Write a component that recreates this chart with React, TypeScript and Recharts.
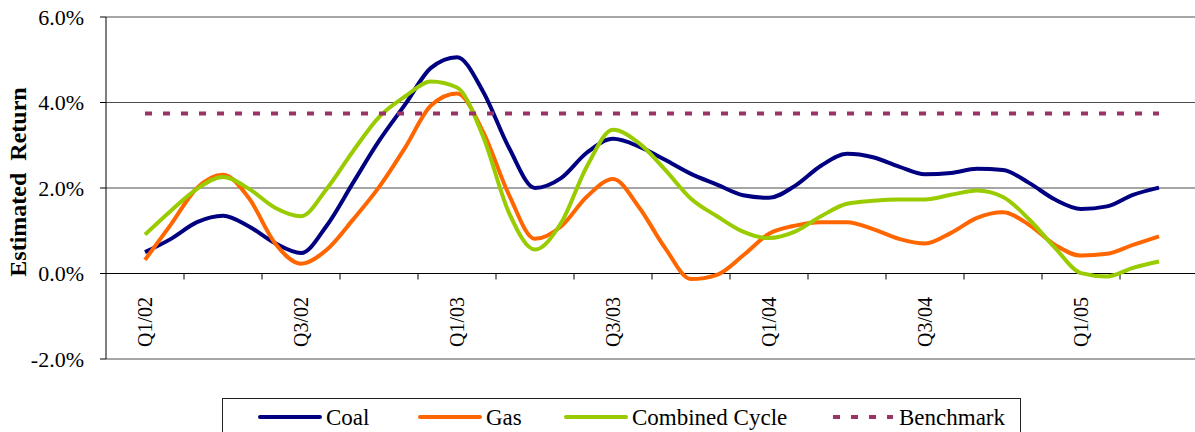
import { LineChart, Line, XAxis, YAxis, CartesianGrid, ReferenceLine } from "recharts";

const FONT = '"Liberation Serif", "DejaVu Serif", Tinos, "Times New Roman", Times, serif';

// monthly categories, Jan 02 .. Jun 05 (values are rolling, plotted Feb 02 .. May 05)
const months = [
  "Jan 02", "Feb 02", "Mar 02", "Apr 02", "May 02", "Jun 02", "Jul 02", "Aug 02", "Sep 02", "Oct 02", "Nov 02", "Dec 02",
  "Jan 03", "Feb 03", "Mar 03", "Apr 03", "May 03", "Jun 03", "Jul 03", "Aug 03", "Sep 03", "Oct 03", "Nov 03", "Dec 03",
  "Jan 04", "Feb 04", "Mar 04", "Apr 04", "May 04", "Jun 04", "Jul 04", "Aug 04", "Sep 04", "Oct 04", "Nov 04", "Dec 04",
  "Jan 05", "Feb 05", "Mar 05", "Apr 05", "May 05", "Jun 05",
];
const firstMonth = "Feb 02";

const tickMonths = ["Feb 02", "Aug 02", "Feb 03", "Aug 03", "Feb 04", "Aug 04", "Feb 05"];
const tickLabels = ["Q1/02", "Q3/02", "Q1/03", "Q3/03", "Q1/04", "Q3/04", "Q1/05"];
const yTicks = [-2, 0, 2, 4, 6];

// estimated return, %
const coal = [
  0.5, 0.81, 1.2, 1.35, 1.1, 0.71, 0.48, 1.13, 2.12, 3.1,
  3.95, 4.81, 5.06, 4.26, 2.94, 2.0, 2.23, 2.83, 3.15, 2.97,
  2.66, 2.33, 2.08, 1.83, 1.77, 2.05, 2.52, 2.8, 2.72, 2.5,
  2.32, 2.35, 2.45, 2.42, 2.12, 1.73, 1.51, 1.57, 1.84, 2.01,
];
const gas = [
  0.32, 1.15, 2.0, 2.31, 1.76, 0.71, 0.23, 0.56, 1.26, 2.02,
  2.94, 3.93, 4.21, 3.32, 1.84, 0.81, 1.1, 1.8, 2.21, 1.55,
  0.6, -0.13, -0.03, 0.42, 0.93, 1.12, 1.2, 1.2, 1.04, 0.81,
  0.7, 0.95, 1.3, 1.43, 1.14, 0.67, 0.42, 0.46, 0.67, 0.87,
];
const combinedCycle = [
  0.91, 1.47, 1.98, 2.26, 1.98, 1.54, 1.34, 1.99, 2.86, 3.66,
  4.14, 4.49, 4.35, 3.21, 1.42, 0.56, 1.18, 2.51, 3.36, 3.05,
  2.43, 1.75, 1.34, 0.98, 0.83, 0.98, 1.34, 1.63, 1.7, 1.73,
  1.73, 1.84, 1.94, 1.79, 1.27, 0.6, 0.01, -0.07, 0.13, 0.28,
];
const benchmark = 3.74;

const start = months.indexOf(firstMonth);
const data = months.map((month, i) => {
  const k = i - start;
  const has = k >= 0 && k < coal.length;
  return {
    i,
    month,
    coal: has ? coal[k] : null,
    gas: has ? gas[k] : null,
    combined: has ? combinedCycle[k] : null,
    benchmark: has ? benchmark : null,
  };
});

const series = [
  { key: "coal", name: "Coal", color: "#000080", dash: undefined as string | undefined },
  { key: "gas", name: "Gas", color: "#FF6600", dash: undefined },
  { key: "combined", name: "Combined Cycle", color: "#99CC00", dash: undefined },
  { key: "benchmark", name: "Benchmark", color: "#993366", dash: "7 11" },
];
const legendLeft = [35, 195, 341, 608];

// tick marks between quarters (every 3 months)
const quarterBounds: number[] = [];
for (let q = 3; q < months.length; q += 3) quarterBounds.push(q - 0.5);

function QuarterTick(props: any) {
  const { x, y, payload } = props;
  const label = tickLabels[tickMonths.indexOf(months[payload.value])];
  const tx = x + 7;
  const ty = y - 70;
  return (
    <text x={tx} y={ty} transform={`rotate(-90 ${tx} ${ty})`} textAnchor="end" fontSize={20} fontFamily={FONT} fill="#000">
      {label}
    </text>
  );
}

function AxisTitle(props: any) {
  const vb = props.viewBox;
  const x = vb.x + 26;
  const y = vb.y + vb.height / 2 - 6;
  return (
    <text x={x} y={y} transform={`rotate(-90 ${x} ${y})`} textAnchor="middle" fontSize={24} fontWeight="bold"
      fontFamily={FONT} fill="#000" style={{ whiteSpace: "pre" }}>
      Estimated  Return
    </text>
  );
}

export default function App() {
  return (
    <div style={{ position: "absolute", left: 0, top: 0, width: 1195, height: 432, overflow: "hidden", background: "#fff", fontFamily: FONT }}>
      <LineChart width={1195} height={432} data={data} margin={{ top: 17, right: -3, bottom: 0, left: 0 }}>
        <CartesianGrid vertical={false} stroke="#000" strokeOpacity={0.7} />
        <XAxis
          dataKey="i"
          type="number"
          domain={[-0.5, months.length - 0.5]}
          ticks={tickMonths.map((m) => months.indexOf(m))}
          tick={<QuarterTick />}
          tickLine={false}
          axisLine={false}
          height={73}
          interval={0}
        />
        <YAxis
          domain={[-2, 6]}
          ticks={yTicks}
          tickFormatter={(v: number) => v.toFixed(1) + "%"}
          width={106}
          tickSize={6}
          tickMargin={16}
          axisLine={{ stroke: "#000" }}
          tickLine={{ stroke: "#000" }}
          tick={{ fontSize: 22, fontFamily: FONT, fill: "#000" }}
          label={<AxisTitle />}
          allowDataOverflow
        />
        <ReferenceLine y={0} stroke="#000" />
        {quarterBounds.map((b) => (
          <ReferenceLine key={b} segment={[{ x: b, y: 0 }, { x: b, y: -0.14 }]} stroke="#000" />
        ))}
        {series.map((s) => (
          <Line
            key={s.key}
            dataKey={s.key}
            name={s.name}
            type={s.dash ? "linear" : "monotone"}
            stroke={s.color}
            strokeWidth={4}
            strokeDasharray={s.dash}
            dot={false}
            connectNulls={false}
            isAnimationActive={false}
          />
        ))}
      </LineChart>
      <div
        style={{
          position: "absolute", left: 222, top: 398, width: 799, height: 50,
          border: "1px solid #222", boxSizing: "border-box", background: "#fff",
        }}
      >
        {series.map((s, k) => (
          <div key={s.key} style={{ position: "absolute", left: legendLeft[k], top: 0, height: 36, display: "flex", alignItems: "center" }}>
            <svg width={64} height={8}>
              <line x1={2} y1={4} x2={62} y2={4} stroke={s.color} strokeWidth={4} strokeDasharray={s.dash}
                strokeLinecap={s.dash ? "butt" : "round"} />
            </svg>
            <span style={{ marginLeft: 4, fontSize: 23, fontFamily: FONT, color: "#000", lineHeight: 1 }}>{s.name}</span>
          </div>
        ))}
      </div>
    </div>
  );
}
